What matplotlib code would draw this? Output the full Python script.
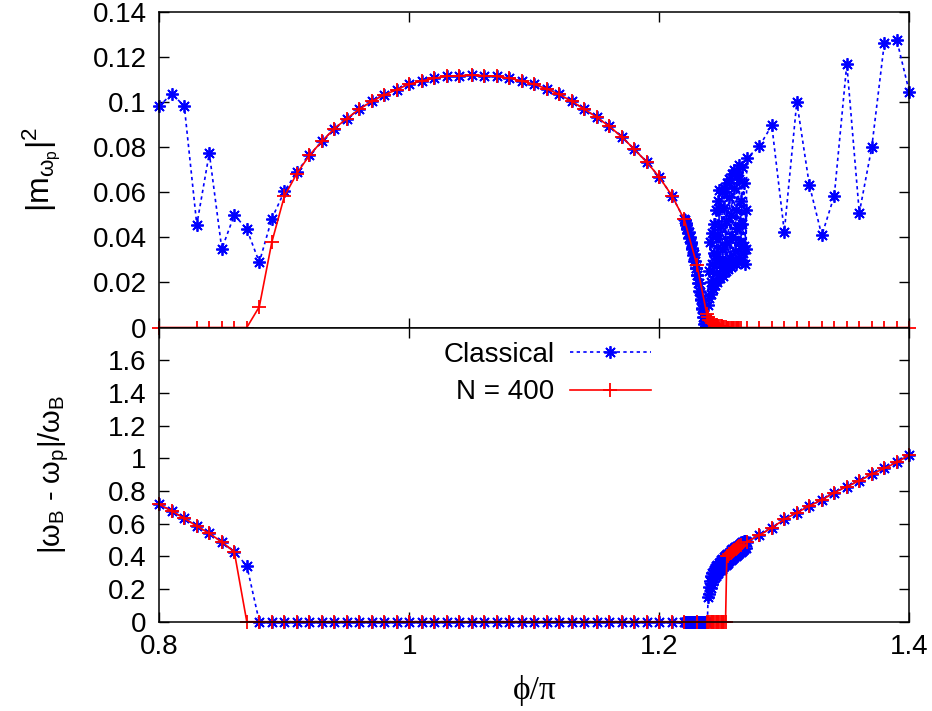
import numpy as np
import matplotlib
matplotlib.use('Agg')
import matplotlib.pyplot as plt

plt.rcParams['font.family'] = ['Liberation Sans', 'DejaVu Sans']
plt.rcParams['mathtext.fontset'] = 'custom'
plt.rcParams['mathtext.rm'] = 'Liberation Sans'
plt.rcParams['mathtext.it'] = 'Liberation Sans'
plt.rcParams['mathtext.default'] = 'regular'

# ---------------- data ----------------
# Classical, |m_wp|^2 : coarse samples 0.80 .. 1.22 (step 0.01)
cl_m2_left = [0.0981, 0.1037, 0.0981, 0.0456, 0.0773, 0.0348, 0.0499, 0.0436, 0.0289, 0.0482,
              0.0603, 0.0689, 0.0763, 0.0825, 0.0882, 0.0926, 0.0968, 0.1003, 0.1031, 0.1055,
              0.1079, 0.1093, 0.1105, 0.1114, 0.1117, 0.1118, 0.1117, 0.1113, 0.1105, 0.1093,
              0.1078, 0.1058, 0.1033, 0.1003, 0.0968, 0.0932, 0.0892, 0.0845, 0.0790, 0.0733,
              0.0667, 0.0585, 0.0479]
# dense samples 1.2205 .. 1.2700 (step 0.0005)
cl_m2_dense = [0.0478, 0.0455, 0.0462, 0.0438, 0.0443, 0.0418, 0.0423, 0.0397, 0.0401, 0.0374,
               0.0377, 0.0349, 0.0351, 0.0323, 0.0324, 0.0295, 0.0295, 0.0265, 0.0264, 0.0233,
               0.0231, 0.0199, 0.0196, 0.0163, 0.0159, 0.0125, 0.0120, 0.0085, 0.0081, 0.0048,
               0.0046, 0.0015, 0.0018, 0.0000, 0.0005, 0.0000,
               0.0040, 0.0100, 0.0250, 0.0130, 0.0380, 0.0200, 0.0150, 0.0420, 0.0280, 0.0170,
               0.0460, 0.0330, 0.0190, 0.0520, 0.0240, 0.0410, 0.0200, 0.0560, 0.0300, 0.0610,
               0.0220, 0.0450, 0.0280, 0.0600, 0.0350, 0.0230, 0.0530, 0.0620, 0.0290, 0.0470,
               0.0250, 0.0640, 0.0380, 0.0260, 0.0580, 0.0660, 0.0310, 0.0500, 0.0270, 0.0680,
               0.0400, 0.0290, 0.0620, 0.0700, 0.0340, 0.0520, 0.0280, 0.0690, 0.0440, 0.0310,
               0.0660, 0.0720, 0.0380, 0.0560, 0.0300, 0.0710, 0.0460, 0.0330, 0.0640, 0.0360,
               0.0280, 0.0520, 0.0350, 0.0750]
# coarse samples 1.28 .. 1.40
cl_m2_right = [0.0803, 0.0896, 0.0425, 0.1000, 0.0633, 0.0408, 0.0585, 0.1168, 0.0508, 0.0800,
               0.1260, 0.1274, 0.1044]

# Classical, |wB - wp|/wB (same grids)
cl_dw_left = [0.718, 0.677, 0.632, 0.585, 0.540, 0.488, 0.427, 0.343] + [0.0] * 35
cl_dw_dense = [0.0] * 37 + [
    0.150, 0.215, 0.170, 0.250, 0.205, 0.278, 0.230, 0.296, 0.250, 0.314,
    0.265, 0.326, 0.278, 0.338, 0.289, 0.349, 0.299, 0.359, 0.308, 0.368,
    0.317, 0.377, 0.325, 0.385, 0.333, 0.393, 0.341, 0.401, 0.348, 0.408,
    0.355, 0.415, 0.362, 0.422, 0.369, 0.429, 0.376, 0.436, 0.383, 0.442,
    0.389, 0.448, 0.395, 0.454, 0.401, 0.460, 0.407, 0.466, 0.413, 0.472,
    0.419, 0.478, 0.425, 0.483, 0.431, 0.487, 0.437, 0.491, 0.443, 0.494,
    0.449, 0.496, 0.489]
cl_dw_right = [0.529, 0.575, 0.626, 0.667, 0.708, 0.745, 0.790, 0.827, 0.862, 0.903,
               0.938, 0.975, 1.020]

# N = 400, |m_wp|^2 : coarse 0.80 .. 1.23 (nan = no sample)
q_m2_coarse = [0.0, np.nan, np.nan, 0.0, 0.0, 0.0, 0.0, 0.0, 0.0092, 0.0378,
               0.0581, 0.0682, 0.0763, 0.0825, 0.0882, 0.0926, 0.0968, 0.1003, 0.1031, 0.1055,
               0.1079, 0.1093, 0.1105, 0.1114, 0.1117, 0.1118, 0.1117, 0.1113, 0.1105, 0.1093,
               0.1078, 0.1058, 0.1033, 0.1003, 0.0968, 0.0932, 0.0892, 0.0845, 0.0790, 0.0733,
               0.0667, 0.0585, 0.0479, 0.0279]
# dense 1.238 .. 1.265 (step 0.001)
q_m2_dense = [0.0060, 0.0045, 0.0035, 0.0028, 0.0022, 0.0018, 0.0015, 0.0012, 0.0010, 0.0008,
              0.0007, 0.0006, 0.0005, 0.0004, 0.0003, 0.0002] + [0.0] * 12
# coarse 1.27 .. 1.40
q_m2_right = [0.0] * 14

# N = 400, |wB - wp|/wB
q_dw_coarse = [0.718, 0.677, 0.632, 0.585, 0.540, 0.488, 0.427, 0.0] + [0.0] * 36
q_dw_dense = [0.0] * 16 + [0.400, 0.405, 0.412, 0.418, 0.424, 0.430, 0.436, 0.442,
                           0.448, 0.455, 0.462, 0.468]
q_dw_right = [0.489, 0.529, 0.575, 0.626, 0.667, 0.708, 0.745, 0.790, 0.827, 0.862,
              0.903, 0.938, 0.975, 1.020]

# sampling grids of phi/pi
x_coarse_left = np.round(0.80 + 0.01 * np.arange(len(cl_m2_left)), 2)
x_blue_dense = np.round(1.2205 + 0.0005 * np.arange(len(cl_m2_dense)), 4)
x_coarse_right = np.round(1.28 + 0.01 * np.arange(len(cl_m2_right)), 2)
x_red_coarse = np.round(0.80 + 0.01 * np.arange(len(q_m2_coarse)), 2)
x_red_dense = np.round(1.238 + 0.001 * np.arange(len(q_m2_dense)), 3)
x_red_right = np.round(1.27 + 0.01 * np.arange(len(q_m2_right)), 2)

# ---------------- assemble ----------------
bx = np.concatenate([x_coarse_left, x_blue_dense, x_coarse_right])
b_m2 = np.concatenate([cl_m2_left, cl_m2_dense, cl_m2_right])
b_dw = np.concatenate([cl_dw_left, cl_dw_dense, cl_dw_right])

rx = np.concatenate([x_red_coarse, x_red_dense, x_red_right])
r_m2 = np.concatenate([q_m2_coarse, q_m2_dense, q_m2_right])
r_dw = np.concatenate([q_dw_coarse, q_dw_dense, q_dw_right])
ok = ~np.isnan(r_m2)

BLUE = '#0000ff'
RED = '#ff0000'
blue_kw = dict(color=BLUE, linestyle=(0, (2.0, 2.0)), lw=1.2, marker=(8, 2, 0),
               markersize=9, markeredgewidth=1.3, clip_on=False)
red_kw = dict(color=RED, linestyle='-', lw=1.2, marker='+',
              markersize=10, markeredgewidth=1.3, clip_on=False)

fig = plt.figure(figsize=(9.32, 7.11), dpi=100)
L, W = 159.3 / 932, 750 / 932
ax1 = fig.add_axes([L, 1 - 327.5 / 711, W, (327.5 - 11.7) / 711])
ax2 = fig.add_axes([L, 1 - 621.7 / 711, W, (621.7 - 327.5) / 711])

ax1.plot(bx, b_m2, **blue_kw)
ax1.plot(rx[ok], r_m2[ok], **red_kw)
ax2.plot(bx, b_dw, label='Classical', **blue_kw)
ax2.plot(rx, r_dw, label='N = 400', **red_kw)

FS = 20
for ax in (ax1, ax2):
    ax.set_xlim(0.8, 1.4)
    ax.set_xticks([0.8, 1.0, 1.2, 1.4])
    ax.tick_params(direction='in', top=True, right=True, length=7, width=1.0,
                   labelsize=FS, pad=9)
    for s in ax.spines.values():
        s.set_linewidth(1.1)
ax1.tick_params(labelbottom=False)
ax2.set_xticklabels(['0.8', '1', '1.2', '1.4'])

ax1.set_ylim(0, 0.14)
ax1.set_yticks([0, 0.02, 0.04, 0.06, 0.08, 0.10, 0.12, 0.14])
ax1.set_yticklabels(['0', '0.02', '0.04', '0.06', '0.08', '0.1', '0.12', '0.14'])
ax2.set_ylim(0, 1.8)
ax2.set_yticks([0, 0.2, 0.4, 0.6, 0.8, 1.0, 1.2, 1.4, 1.6])
ax2.set_yticklabels(['0', '0.2', '0.4', '0.6', '0.8', '1', '1.2', '1.4', '1.6'])

ax1.set_ylabel(r'$|m_{\omega_p}|^2$', fontsize=23)
ax1.yaxis.set_label_coords(-0.128, 0.5)
ax2.set_ylabel(r'$|\omega_B\ \text{-}\ \omega_p|/\omega_B$', fontsize=21)
ax2.yaxis.set_label_coords(-0.118, 0.5)
ax2.set_xlabel('\u03d5/\u03c0', fontsize=24, family=['Liberation Serif', 'DejaVu Serif'],
               labelpad=11)

leg = ax2.legend(loc='upper right', bbox_to_anchor=(0.655, 0.952), frameon=False,
                 markerfirst=False, fontsize=FS, handlelength=2.9, handletextpad=0.55,
                 labelspacing=0.42, borderpad=0, borderaxespad=0)

fig.savefig('out.png', dpi=100)
